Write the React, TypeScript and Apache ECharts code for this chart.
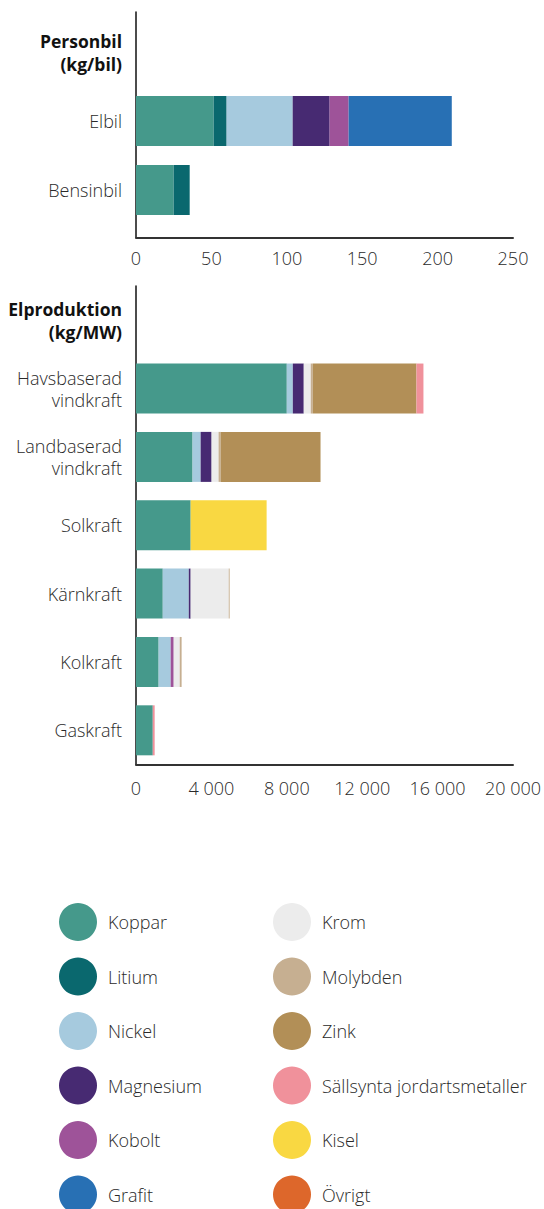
import React, { useEffect, useRef } from 'react';
import * as echarts from 'echarts';

const FONT = "'Open Sans', Roboto, 'Noto Sans', 'DejaVu Sans', sans-serif";
const TXT = '#2a2a2a';

const materials = [
  'Koppar', 'Litium', 'Nickel', 'Magnesium', 'Kobolt', 'Grafit',
  'Krom', 'Molybden', 'Zink', 'Sällsynta jordartsmetaller', 'Kisel', 'Övrigt',
];
const materialColors = [
  '#45998b', '#0a686e', '#a6cade', '#472a72', '#9e5399', '#2870b4',
  '#ececec', '#c6af91', '#b28f57', '#f0919b', '#f9d842', '#dd672b',
];

const carHeader = 'Personbil\n(kg/bil)';
const carCategories = [carHeader, 'Elbil', 'Bensinbil'];
const carTicks = [0, 50, 100, 150, 200, 250];

// per material, [header, Elbil, Bensinbil]
const carKoppar = [null, 51.5, 25];
const carLitium = [null, 8.6, 10.6];
const carNickel = [null, 43.8, 0];
const carMagnesium = [null, 24.5, 0];
const carKobolt = [null, 12.6, 0];
const carGrafit = [null, 68.4, 0];
const carKrom = [null, 0, 0];
const carMolybden = [null, 0, 0];
const carZink = [null, 0, 0];
const carSallsynta = [null, 0, 0];
const carKisel = [null, 0, 0];
const carOvrigt = [null, 0, 0];

const powerHeader = 'Elproduktion\n(kg/MW)';
const powerCategories = [
  powerHeader, 'Havsbaserad\nvindkraft', 'Landbaserad\nvindkraft',
  'Solkraft', 'Kärnkraft', 'Kolkraft', 'Gaskraft',
];
const powerTicks = [0, 4000, 8000, 12000, 16000, 20000];

const powerKoppar = [null, 8000, 3000, 2900, 1420, 1200, 890];
const powerLitium = [null, 0, 0, 0, 0, 0, 0];
const powerNickel = [null, 320, 430, 0, 1380, 640, 0];
const powerMagnesium = [null, 580, 580, 0, 100, 0, 0];
const powerKobolt = [null, 0, 0, 0, 0, 160, 0];
const powerGrafit = [null, 0, 0, 0, 0, 0, 0];
const powerKrom = [null, 370, 370, 0, 2020, 320, 0];
const powerMolybden = [null, 110, 110, 0, 50, 100, 0];
const powerZink = [null, 5500, 5300, 0, 0, 0, 0];
const powerSallsynta = [null, 370, 0, 0, 0, 0, 100];
const powerKisel = [null, 0, 0, 4030, 0, 0, 0];
const powerOvrigt = [null, 0, 0, 0, 0, 0, 0];

const carData = [
  carKoppar, carLitium, carNickel, carMagnesium, carKobolt, carGrafit,
  carKrom, carMolybden, carZink, carSallsynta, carKisel, carOvrigt,
];
const powerData = [
  powerKoppar, powerLitium, powerNickel, powerMagnesium, powerKobolt, powerGrafit,
  powerKrom, powerMolybden, powerZink, powerSallsynta, powerKisel, powerOvrigt,
];

const fmt = (v: number) => String(v).replace(/\B(?=(\d{3})+(?!\d))/g, ' ');

const catLabel = (headers: string[]) => ({
  show: true,
  margin: 14,
  fontSize: 18,
  lineHeight: 22,
  color: TXT,
  fontWeight: 300,
  fontFamily: FONT,
  formatter: (v: string) =>
    headers.includes(v) ? v.split('\n').map((l) => `{b|${l}}`).join('\n') : v,
  rich: {
    b: { fontSize: 17.5, lineHeight: 23, fontWeight: 'bold', color: '#111', fontFamily: FONT },
  },
});

const valueLabel = (margin: number) => ({
  show: true,
  margin,
  fontSize: 18,
  color: TXT,
  fontWeight: 300,
  fontFamily: FONT,
  formatter: (v: number) => fmt(v),
});

export default function App() {
  const ref = useRef<HTMLDivElement>(null);
  useEffect(() => {
    if (!ref.current) return;
    const chart = echarts.init(ref.current, undefined, { renderer: 'svg' });
    const L = 136;
    const R = 31;
    const series: any[] = [];
    materials.forEach((m, i) => {
      series.push({
        name: m,
        type: 'bar',
        stack: 'car',
        xAxisIndex: 1,
        yAxisIndex: 1,
        barWidth: 50,
        itemStyle: { color: materialColors[i] },
        data: carData[i],
      });
      series.push({
        name: m,
        type: 'bar',
        stack: 'power',
        xAxisIndex: 2,
        yAxisIndex: 2,
        barWidth: 50,
        itemStyle: { color: materialColors[i] },
        data: powerData[i],
      });
    });
    const legendCommon = {
      orient: 'vertical',
      top: 903,
      height: 400,
      padding: 0,
      icon: 'circle',
      itemWidth: 38,
      itemHeight: 38,
      itemGap: 16.5,
      selectedMode: false,
      textStyle: { fontSize: 18, color: TXT, fontWeight: 300, fontFamily: FONT, padding: [0, 0, 0, 6] },
    };
    chart.setOption({
      animation: false,
      backgroundColor: '#fff',
      textStyle: { fontFamily: FONT },
      grid: [
        { left: L, right: R, top: 12, height: 225.5 },
        { left: L, right: R, top: 17.5, height: 207 },
        { left: L, right: R, top: 286, height: 478.5 },
      ],
      xAxis: [
        {
          gridIndex: 0, type: 'value', min: carTicks[0], max: carTicks[carTicks.length - 1], interval: 50,
          axisLine: { show: true, lineStyle: { color: '#333', width: 2 } },
          axisTick: { show: false }, splitLine: { show: false },
          axisLabel: valueLabel(11),
        },
        {
          gridIndex: 1, type: 'value', min: carTicks[0], max: carTicks[carTicks.length - 1], show: false,
        },
        {
          gridIndex: 2, type: 'value', min: powerTicks[0], max: powerTicks[powerTicks.length - 1], interval: 4000,
          axisLine: { show: true, lineStyle: { color: '#333', width: 2 } },
          axisTick: { show: false }, splitLine: { show: false },
          axisLabel: valueLabel(14),
        },
      ],
      yAxis: [
        {
          gridIndex: 0, type: 'category', data: [''],
          axisLine: { show: true, lineStyle: { color: '#111', width: 1.5 } },
          axisTick: { show: false }, axisLabel: { show: false },
        },
        {
          gridIndex: 1, type: 'category', data: carCategories, inverse: true,
          axisLine: { show: false }, axisTick: { show: false },
          axisLabel: catLabel([carHeader]),
        },
        {
          gridIndex: 2, type: 'category', data: powerCategories, inverse: true,
          axisLine: { show: true, lineStyle: { color: '#111', width: 1.5 } },
          axisTick: { show: false },
          axisLabel: catLabel([powerHeader]),
        },
      ],
      legend: [
        { ...legendCommon, left: 59, data: materials.slice(0, 6) },
        { ...legendCommon, left: 273, data: materials.slice(6) },
      ],
      series,
    });
    return () => chart.dispose();
  }, []);
  return (
    <div
      ref={ref}
      style={{ position: 'absolute', left: 0, top: 0, width: 544, height: 1209 }}
    />
  );
}
